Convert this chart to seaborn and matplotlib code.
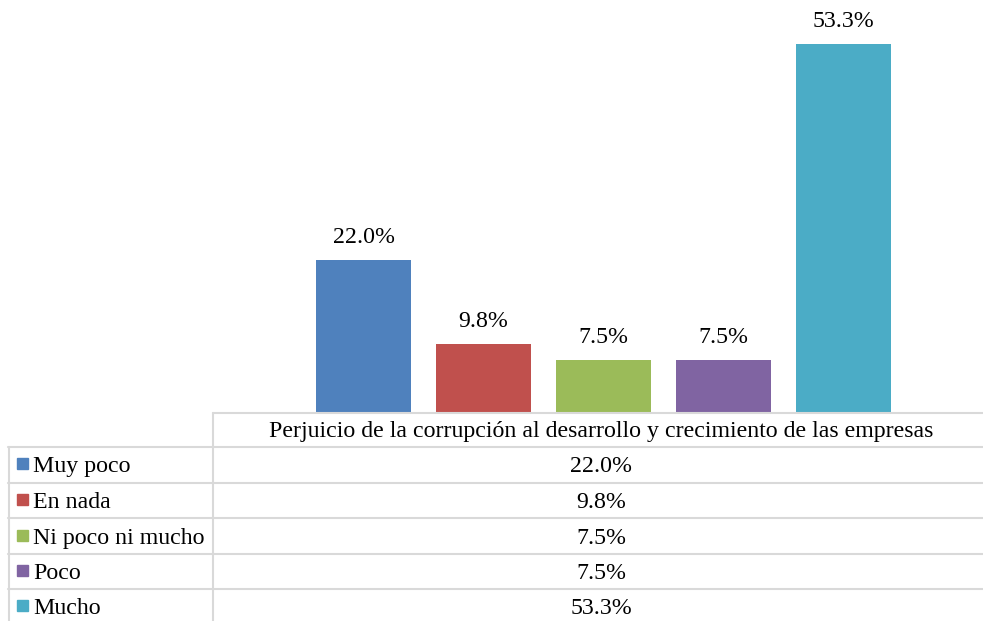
import matplotlib
matplotlib.use("Agg")
import matplotlib.pyplot as plt
from matplotlib.lines import Line2D
from matplotlib.patches import Rectangle
import seaborn as sns
import pandas as pd

categories = ["Muy poco", "En nada", "Ni poco ni mucho", "Poco", "Mucho"]
values = [22.0, 9.8, 7.5, 7.5, 53.3]
value_labels = ["22.0%", "9.8%", "7.5%", "7.5%", "53.3%"]
colors = ["#4F81BD", "#C0504D", "#9BBB59", "#8064A2", "#4BACC6"]
table_title = "Perjuicio de la corrupción al desarrollo y crecimiento de las empresas"

sns.set_theme(style="white")
plt.rcParams["font.family"] = ["Liberation Serif", "DejaVu Serif"]

FS = 17.2
TXT = "#000000"
W, H = 983, 621
fig = plt.figure(figsize=(W / 100, H / 100), dpi=100)
fig.patch.set_facecolor("white")


def fx(x):
    return x / W


def fy(y):
    return 1 - y / H


# plot area for the bars
left, right, base = 213, 983, 412
ax = fig.add_axes([fx(left), fy(base), fx(right - left), base / H])
df = pd.DataFrame({"cat": categories, "val": values})
sns.barplot(data=df, x="cat", y="val", hue="cat", palette=colors,
            width=95 / 120, legend=False, ax=ax, saturation=1, linewidth=0)
ax.set_xlim(-(363.5 - left) / 120, 4 + (right - 843.5) / 120)
ax.set_ylim(0, base / 6.9)
ax.axis("off")
for i, (v, lab) in enumerate(zip(values, value_labels)):
    ax.annotate(lab, (i, v), xytext=(0, 9), textcoords="offset points",
                ha="center", va="bottom", fontsize=FS, color=TXT)

# data table grid
grid = "#D9D9D9"
lw = 1.5
fig.add_artist(Line2D([fx(213), fx(983)], [fy(413), fy(413)], color=grid, lw=lw))
for y in [447, 483, 518, 554, 589]:
    fig.add_artist(Line2D([fx(8), fx(983)], [fy(y), fy(y)], color=grid, lw=lw))
fig.add_artist(Line2D([fx(213), fx(213)], [fy(413), fy(621)], color=grid, lw=lw))
fig.add_artist(Line2D([fx(9), fx(9)], [fy(447), fy(621)], color=grid, lw=lw))

fig.text(fx(601.5), fy(432), table_title, ha="center", va="center",
         fontsize=FS, color=TXT)
row_centers = [465, 501, 537, 572, 607]
for yc, name, lab, c in zip(row_centers, categories, value_labels, colors):
    fig.add_artist(Rectangle((fx(17), fy(yc + 4)), fx(11), 11 / H,
                             color=c, transform=fig.transFigure))
    fig.text(fx(33), fy(yc + 1.5), name, ha="left", va="center",
             fontsize=FS, color=TXT)
    fig.text(fx(601), fy(yc + 1.5), lab, ha="center", va="center",
             fontsize=FS, color=TXT)

fig.savefig("out.png", dpi=100, facecolor="white")
